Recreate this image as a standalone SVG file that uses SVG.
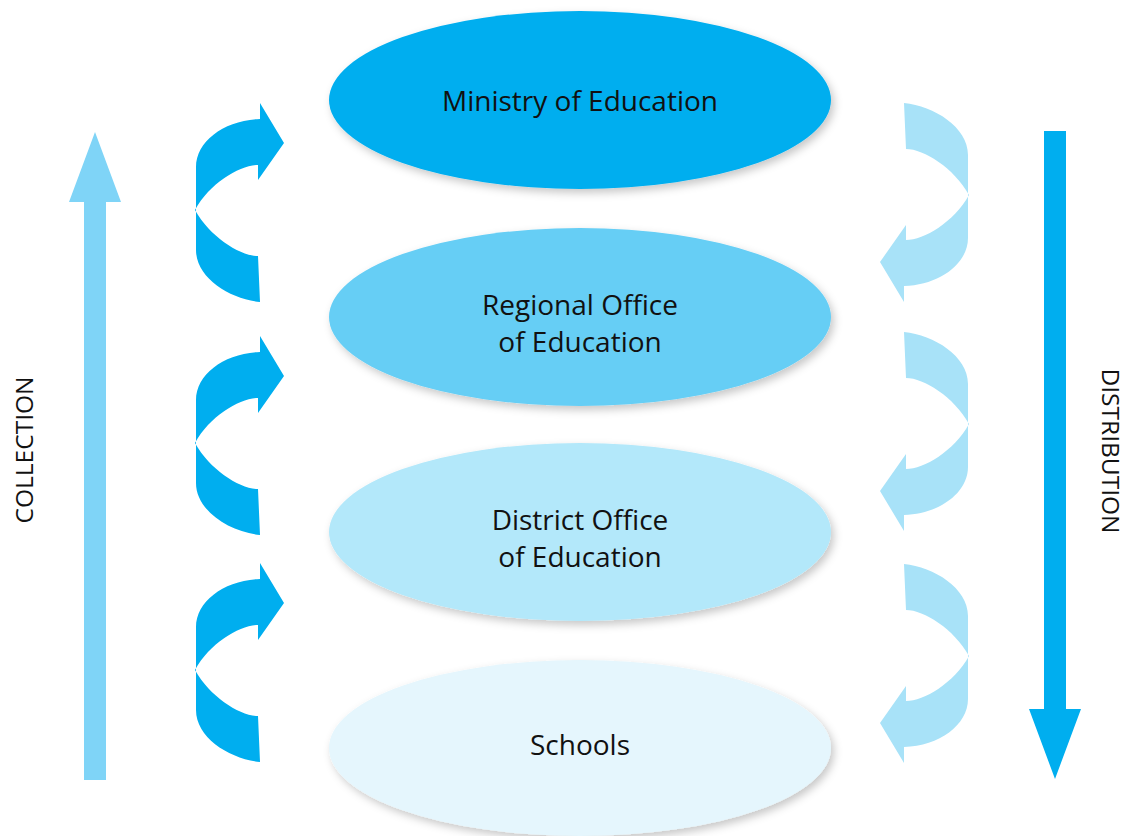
<svg xmlns="http://www.w3.org/2000/svg" width="1129" height="836" viewBox="0 0 1129 836">
<style>
  .lbl { font-family: "Open Sans", "Liberation Sans", sans-serif; font-size: 28px; fill: #111; text-anchor: middle; }
  .side { font-family: "Open Sans", "Liberation Sans", sans-serif; font-size: 24.5px; fill: #111; text-anchor: middle; }
  .up { fill: #00AEEF; }
  .down { fill: #A8E2F8; }
</style>
<defs>
  <filter id="sh" x="-10%" y="-10%" width="125%" height="130%">
    <feDropShadow dx="3" dy="4" stdDeviation="4" flood-color="#000" flood-opacity="0.22"/>
  </filter>
  <path id="curl" d="M0,0 L24,40 L-2,77 L-2,62 C-20,62 -50,80 -65,107 C-50,134 -20,153 -2,153 L0,199 C-30,196 -64,175 -64,147 L-64,64 C-64,38 -35,17 0,16 Z"/>
</defs>
<rect width="1129" height="836" fill="#fff"/>

<g id="connectors">
  <polygon id="collection-arrow" fill="#7FD4F7" points="84,780 106,780 106,202 121,202 95,132 69,202 84,202"/>
  <polygon id="distribution-arrow" fill="#00AEEF" points="1044,131 1066,131 1066,709 1081,709 1055,779 1029,709 1044,709"/>
  <use href="#curl" class="up" transform="translate(260,103)"/>
  <use href="#curl" class="up" transform="translate(260,336)"/>
  <use href="#curl" class="up" transform="translate(260,563)"/>
  <use href="#curl" class="down" transform="translate(904,302) rotate(180)"/>
  <use href="#curl" class="down" transform="translate(904,531) rotate(180)"/>
  <use href="#curl" class="down" transform="translate(904,763) rotate(180)"/>
</g>

<g id="ministry">
  <ellipse cx="580" cy="100" rx="251" ry="89" fill="#00AEEF" filter="url(#sh)"/>
  <text class="lbl" x="580" y="111">Ministry of Education</text>
</g>
<g id="regional">
  <ellipse cx="580" cy="317" rx="251" ry="89" fill="#66CEF5" filter="url(#sh)"/>
  <text class="lbl" x="580" y="315">Regional Office</text>
  <text class="lbl" x="580" y="352">of Education</text>
</g>
<g id="district">
  <ellipse cx="580" cy="532" rx="251" ry="89" fill="#B3E8FA" filter="url(#sh)"/>
  <text class="lbl" x="580" y="530">District Office</text>
  <text class="lbl" x="580" y="567">of Education</text>
</g>
<g id="schools">
  <ellipse cx="580" cy="748" rx="251" ry="88" fill="#E5F6FD" filter="url(#sh)"/>
  <text class="lbl" x="580" y="755">Schools</text>
</g>

<g id="side-labels">
  <text class="side" transform="translate(33,450) rotate(-90)">COLLECTION</text>
  <text class="side" transform="translate(1102,451) rotate(90)">DISTRIBUTION</text>
</g>
</svg>
